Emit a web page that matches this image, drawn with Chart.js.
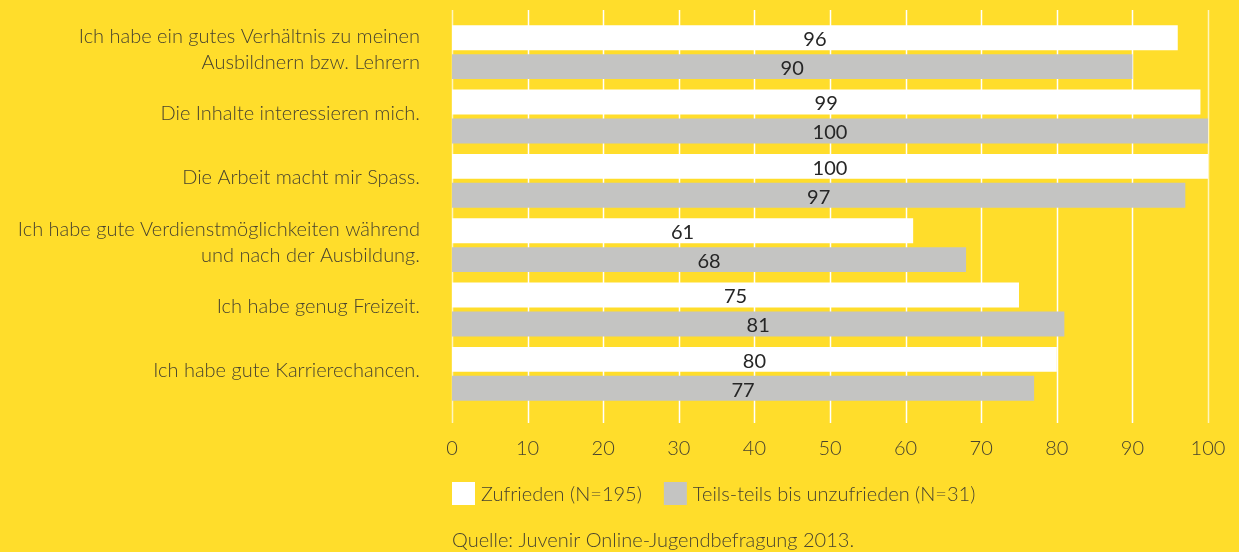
<!DOCTYPE html>
<html>
<head>
<meta charset="utf-8">
<script src="https://cdn.jsdelivr.net/npm/chart.js@4"></script>
<style>
  html, body { margin: 0; padding: 0; background: #ffdd2b; }
  #wrap { width: 1239px; height: 552px; }
</style>
</head>
<body>
<div id="wrap"><canvas id="chart" width="1239" height="552"></canvas></div>
<script>
const categories = [
  ['Ich habe ein gutes Verhältnis zu meinen', 'Ausbildnern bzw. Lehrern'],
  'Die Inhalte interessieren mich.',
  'Die Arbeit macht mir Spass.',
  ['Ich habe gute Verdienstmöglichkeiten während', 'und nach der Ausbildung.'],
  'Ich habe genug Freizeit.',
  'Ich habe gute Karrierechancen.'
];
const zufrieden = [96, 99, 100, 61, 75, 80];
const teilsTeils = [90, 100, 97, 68, 81, 77];
const seriesNames = ['Zufrieden (N=195)', 'Teils-teils bis unzufrieden (N=31)'];
const xTicks = [0, 10, 20, 30, 40, 50, 60, 70, 80, 90, 100];
const sourceText = 'Quelle: Juvenir Online-Jugendbefragung 2013.';

const textColor = '#48432f';
const fontFamily = 'Lato, "Open Sans", sans-serif';

// vertical white grid lines, a bit longer than the chart area
const gridLines = {
  id: 'gridLines',
  beforeDatasetsDraw(chart) {
    const { ctx, chartArea, scales } = chart;
    ctx.save();
    xTicks.forEach(v => {
      const x = Math.round(scales.x.getPixelForValue(v)) + 0.5;
      ctx.strokeStyle = (v === 0 || v === 100) ? 'rgba(255,255,255,0.7)' : '#ffffff';
      ctx.lineWidth = 1.5;
      ctx.beginPath();
      ctx.moveTo(x, chartArea.top - 10);
      ctx.lineTo(x, chartArea.bottom + 17);
      ctx.stroke();
    });
    ctx.restore();
  }
};

// value labels centered in each bar
const barValues = {
  id: 'barValues',
  afterDatasetsDraw(chart) {
    const { ctx } = chart;
    ctx.save();
    ctx.font = '20px ' + fontFamily;
    ctx.fillStyle = '#262626';
    ctx.textAlign = 'center';
    ctx.textBaseline = 'middle';
    chart.data.datasets.forEach((ds, i) => {
      chart.getDatasetMeta(i).data.forEach((bar, j) => {
        ctx.fillText(ds.data[j], (bar.x + bar.base) / 2, bar.y + 2);
      });
    });
    ctx.restore();
  }
};

// legend + source line below the axis
const footer = {
  id: 'footer',
  afterDraw(chart) {
    const { ctx, chartArea } = chart;
    ctx.save();
    ctx.font = '300 20px ' + fontFamily;
    ctx.textBaseline = 'middle';
    ctx.textAlign = 'left';
    let x = chartArea.left;
    const y = 493;
    chart.data.datasets.forEach((ds, i) => {
      ctx.fillStyle = ds.backgroundColor;
      ctx.fillRect(x, y - 11, 23, 23);
      ctx.fillStyle = textColor;
      ctx.fillText(seriesNames[i], x + 29, y + 2);
      x += 29 + ctx.measureText(seriesNames[i]).width + 22;
    });
    ctx.fillText(sourceText, chartArea.left, 541);
    ctx.restore();
  }
};

new Chart(document.getElementById('chart'), {
  type: 'bar',
  data: {
    labels: categories,
    datasets: [
      { label: seriesNames[0], data: zufrieden, backgroundColor: '#ffffff',
        categoryPercentage: 0.9, barPercentage: 0.862 },
      { label: seriesNames[1], data: teilsTeils, backgroundColor: '#c4c4c2',
        categoryPercentage: 0.9, barPercentage: 0.862 }
    ]
  },
  options: {
    indexAxis: 'y',
    responsive: false,
    animation: false,
    layout: { padding: { top: 20, right: 31, bottom: 0, left: 0 } },
    plugins: { legend: { display: false }, tooltip: { enabled: false } },
    scales: {
      x: {
        min: 0, max: 100,
        grid: { display: false, drawTicks: false },
        border: { display: false },
        afterFit(scale) {
          scale.height = 146;
          scale.paddingLeft = 0;
          scale.paddingRight = 0;
        },
        afterBuildTicks(scale) { scale.ticks = xTicks.map(v => ({ value: v })); },
        ticks: { color: textColor, padding: 31, font: { family: fontFamily, size: 20, weight: 300 } }
      },
      y: {
        grid: { display: false, drawTicks: false },
        border: { display: false },
        afterFit(scale) {
          scale.width = 452;
          scale.paddingTop = 0;
          scale.paddingBottom = 0;
        },
        ticks: { color: textColor, padding: 32, labelOffset: -3,
          font: { family: fontFamily, size: 20, weight: 300, lineHeight: 1.3 } }
      }
    }
  },
  plugins: [gridLines, barValues, footer]
});
</script>
</body>
</html>
